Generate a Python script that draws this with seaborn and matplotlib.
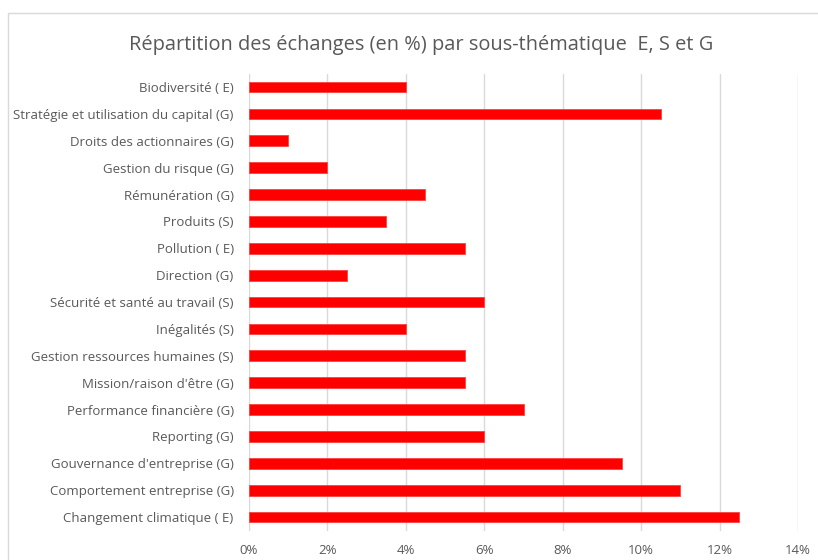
import pandas as pd
import seaborn as sns
import matplotlib.pyplot as plt
from matplotlib.patches import Rectangle
from matplotlib.ticker import PercentFormatter

categories = [
    'Biodiversité ( E)',
    'Stratégie et utilisation du capital (G)',
    'Droits des actionnaires (G)',
    'Gestion du risque (G)',
    'Rémunération (G)',
    'Produits (S)',
    'Pollution ( E)',
    'Direction (G)',
    'Sécurité et santé au travail (S)',
    'Inégalités (S)',
    'Gestion ressources humaines (S)',
    'Mission/raison d\'être (G)',
    'Performance financière (G)',
    'Reporting (G)',
    'Gouvernance d\'entreprise (G)',
    'Comportement entreprise (G)',
    'Changement climatique ( E)',
]
values = [4.0, 10.5, 1.0, 2.0, 4.5, 3.5, 5.5, 2.5, 6.0, 4.0, 5.5, 5.5, 7.0, 6.0, 9.5, 11.0, 12.5]
xticks = [0, 2, 4, 6, 8, 10, 12, 14]

sns.set_theme(style='white')
plt.rcParams['font.family'] = ['Open Sans', 'DejaVu Sans']

df = pd.DataFrame({'theme': categories, 'pct': values})

fig = plt.figure(figsize=(8.18, 5.6), dpi=100)
ax = fig.add_axes([249 / 818, 1 - 530.5 / 560, (798 - 249) / 818, (530.5 - 73.6) / 560])

sns.barplot(data=df, y='theme', x='pct', orient='h', color='#ff0000',
            width=0.4, saturation=1, edgecolor='#ff4040', linewidth=0.6, ax=ax)

ax.set_xlim(0, 14)
ax.set_xticks(xticks)
ax.xaxis.set_major_formatter(PercentFormatter(decimals=0))
ax.grid(axis='x', color='#d9d9d9', linewidth=1)
ax.set_axisbelow(True)
for s in ax.spines.values():
    s.set_visible(False)
ax.set(xlabel='', ylabel='')
ax.tick_params(axis='both', length=0, labelsize=9.5, colors='#595959')
ax.tick_params(axis='y', pad=11)
ax.tick_params(axis='x', pad=10)

fig.text(0.515, 1 - 45 / 560, 'Répartition des échanges (en %) par sous-thématique  E, S et G',
         ha='center', va='center', fontsize=14.4, color='#595959')

# chart frame (cropped on right and bottom)
fig.patches.append(Rectangle((8 / 818, -0.05), 1.0, 1 - 13 / 560 + 0.05,
                             transform=fig.transFigure, fill=False,
                             edgecolor='#d9d9d9', linewidth=1))

fig.savefig('out.png', dpi=100)
